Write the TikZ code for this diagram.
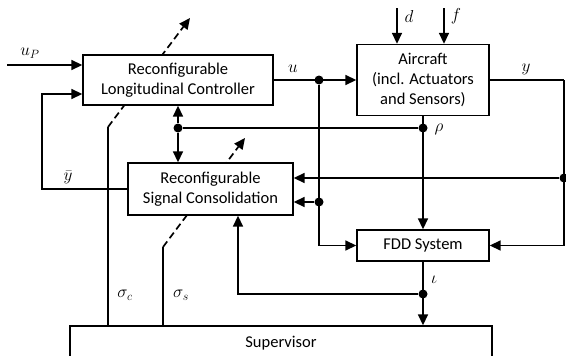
\documentclass[tikz,border=0pt]{standalone}
\usepackage{fontspec}
\setmainfont{Carlito}
\usetikzlibrary{arrows.meta,backgrounds}

\tikzset{
  block/.style={draw, line width=1.4pt, fill=white, align=center, inner sep=0pt},
  wire/.style={line width=1.7pt},
  arr/.style={wire, -{Triangle[length=11pt,width=10pt]}},
  sig/.style={wire, dash pattern=on 7pt off 4pt, -{Triangle[length=11pt,width=10pt]}},
  dot/.style={circle, fill, inner sep=0pt, minimum size=9pt}
}

\begin{document}
\begin{tikzpicture}[x=1pt,y=-1pt,font=\fontsize{16.5}{20}\selectfont]
\useasboundingbox (0,0) rectangle (566,356);
% blocks
\node[block, minimum width=190pt, minimum height=50pt] (ctrl) at (178,80) {Reconfigurable\\Longitudinal Controller};
\node[block, minimum width=132pt, minimum height=71pt] (air) at (423,80) {Aircraft\\(incl. Actuators\\and Sensors)};
\node[block, minimum width=165pt, minimum height=52pt] (cons) at (210.5,189) {Reconfigurable\\Signal Consolidation};
\node[block, minimum width=132pt, minimum height=31pt] (fdd) at (423,245.5) {FDD System};
\node[block, minimum width=422pt, minimum height=34pt] (sup) at (281,343) {Supervisor};
% junctions
\node[dot] (ju) at (319,80) {};
\node[dot] (ju2) at (319,202) {};
\node[dot] (jy) at (564,178) {};
\node[dot] (jr) at (423,128) {};
\node[dot] (jc) at (178,128) {};
\node[dot] (ji) at (423,294) {};
\coordinate (uin) at (7,65);
\coordinate (fb) at (42,94);
\coordinate (din) at (397,8);
\coordinate (fin) at (444,8);
\coordinate (yr) at (564,80);
\coordinate (iup) at (238,294);
% signals
\draw[arr] (uin) -- (uin -| ctrl.west);
\draw[arr] (cons.west) -| (fb) -- (fb -| ctrl.west);
\draw[arr] (ctrl.east) -- (ctrl.east -| air.west);
\draw[arr] (ju) |- (fdd.west);
\draw[arr] (ju2) -- (ju2 -| cons.east);
\draw[arr] (din) -- (din |- air.north);
\draw[arr] (fin) -- (fin |- air.north);
\draw[wire] (air.east) -- (yr);
\draw[arr] (yr) |- (fdd.east);
\draw[arr] (jy) -- (jy -| cons.east);
\draw[arr] (air.south) -- (fdd.north);
\draw[wire] (jr) -- (jc);
\draw[arr] (jc) -- (ctrl.south);
\draw[arr] (jc) -- (jc |- cons.north);
\draw[arr] (fdd.south) -- (fdd.south |- sup.north);
\draw[arr] (ji) -- (iup) -- (iup |- cons.south);
% switching signals
\begin{scope}[on background layer]
\draw[wire] (108,326) -- (108,127);
\draw[sig] (108,127) -- (190,18);
\draw[wire] (163,326) -- (163,247);
\draw[sig] (163,247) -- (245,138);
\end{scope}
% labels
\node (lup) at (30,53) {$u_P$};
\node (lyb) at (68,177) {$\bar{y}$};
\node (lu) at (293,69) {$u$};
\node (ld) at (409,16) {$d$};
\node (lf) at (456,16) {$f$};
\node (ly) at (526,69) {$y$};
\node (lrho) at (439,129) {$\rho$};
\node (liota) at (434,280) {$\iota$};
\node (lsc) at (125,295) {$\sigma_c$};
\node (lss) at (181,295) {$\sigma_s$};
\end{tikzpicture}
\end{document}
